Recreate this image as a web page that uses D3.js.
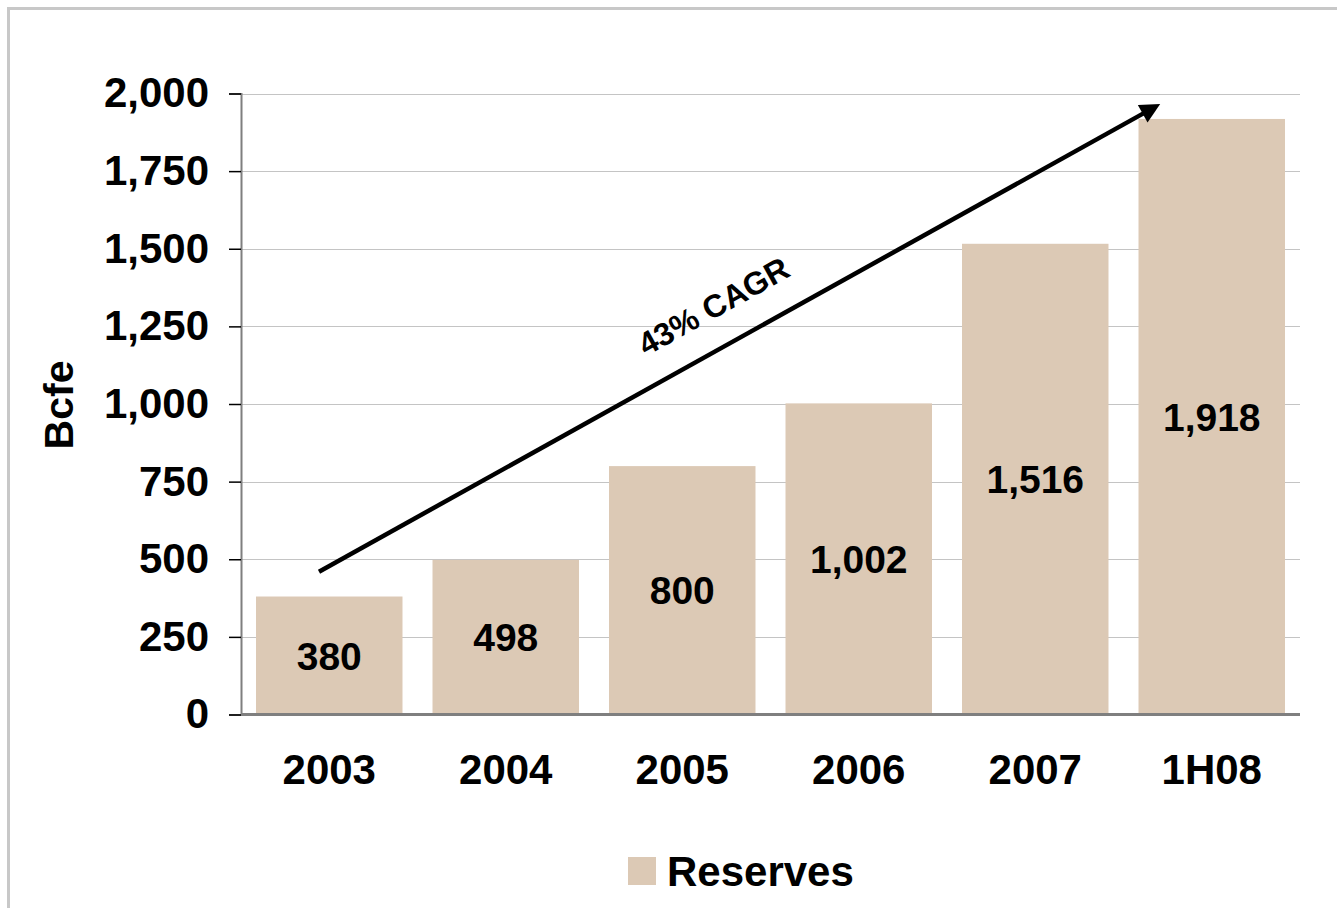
<!DOCTYPE html>
<html>
<head>
<meta charset="utf-8">
<script src="https://cdn.jsdelivr.net/npm/d3@7"></script>
<style>
  body { margin: 0; background: #fff; }
  text { font-family: Arial, "Liberation Sans", sans-serif; font-weight: bold; fill: #000; }
</style>
</head>
<body>
<div id="chart"></div>
<script>
var width = 1337,
    height = 908;

// data
const categories = ["2003", "2004", "2005", "2006", "2007", "1H08"];
const reserves = [380, 498, 800, 1002, 1516, 1918];
const labels = ["380", "498", "800", "1,002", "1,516", "1,918"];
const yTicks = [0, 250, 500, 750, 1000, 1250, 1500, 1750, 2000];
const seriesName = "Reserves";
const cagrText = "43% CAGR";
// arrow runs from 2003 value-ish to just above the top
const arrowFrom = { cat: "2003", value: 460, offset: -0.07 };
const arrowTo = { cat: "1H08", value: 1966, offset: -0.352 };

var svg = d3.select("#chart")
    .append("svg")
    .attr("width", width)
    .attr("height", height);

// outer frame
svg.append("rect")
    .attr("x", 8.5).attr("y", 8.5)
    .attr("width", width + 20).attr("height", height + 20)
    .attr("fill", "none")
    .attr("stroke", "#c8c8c8")
    .attr("stroke-width", 3);

var xScale = d3.scaleBand().domain(categories).range([241, 1300]).paddingInner(0.17).paddingOuter(0.085),
    yScale = d3.scaleLinear().domain([0, 2000]).range([714.5, 93.5]);

// gridlines
svg.append("g")
    .selectAll("line")
    .data(yTicks.filter(d => d > 0))
    .enter().append("line")
    .attr("x1", 241).attr("x2", 1300)
    .attr("y1", d => Math.round(yScale(d)) + 0.5)
    .attr("y2", d => Math.round(yScale(d)) + 0.5)
    .attr("stroke", "#c4c4c4")
    .attr("stroke-width", 1);

// bars
svg.selectAll(".bar")
    .data(reserves)
    .enter().append("rect")
    .attr("class", "bar")
    .attr("x", (d, i) => xScale(categories[i]))
    .attr("y", d => yScale(d))
    .attr("width", xScale.bandwidth())
    .attr("height", d => yScale(0) - yScale(d))
    .attr("fill", "#dcc9b5");

// bar labels
svg.selectAll(".blabel")
    .data(reserves)
    .enter().append("text")
    .attr("class", "blabel")
    .attr("x", (d, i) => xScale(categories[i]) + xScale.bandwidth() / 2)
    .attr("y", d => (yScale(d) + yScale(0)) / 2)
    .attr("dy", "0.36em")
    .attr("text-anchor", "middle")
    .style("font-size", "39px")
    .text((d, i) => labels[i]);

// Y-axis
var yAxis = d3.axisLeft(yScale)
    .tickValues(yTicks)
    .tickSize(12)
    .tickPadding(20)
    .tickFormat(d3.format(","));

var gy = svg.append("g")
    .attr("transform", "translate(241,0)")
    .call(yAxis);
gy.select(".domain").attr("stroke", "#7f7f7f").attr("stroke-width", 2);
gy.selectAll(".tick line").attr("stroke", "#000").attr("stroke-width", 1.5);
gy.selectAll("text")
    .style("font-size", "42px")
    .style("font-family", "Arial, 'Liberation Sans', sans-serif")
    .style("font-weight", "bold")
    .attr("fill", "#000");

// X-axis
var xAxis = d3.axisBottom(xScale).tickSize(0).tickPadding(40);
var gx = svg.append("g")
    .attr("transform", "translate(0," + yScale(0) + ")")
    .call(xAxis);
gx.select(".domain").attr("d", "M241,0H1300").attr("stroke", "#7f7f7f").attr("stroke-width", 3);
gx.selectAll("text")
    .style("font-size", "42px")
    .style("font-family", "Arial, 'Liberation Sans', sans-serif")
    .style("font-weight", "bold")
    .attr("fill", "#000");

// y title
svg.append("text")
    .attr("transform", "translate(73,405) rotate(-90)")
    .attr("text-anchor", "middle")
    .style("font-size", "41px")
    .text("Bcfe");

// CAGR arrow
svg.append("defs").append("marker")
    .attr("id", "head")
    .attr("viewBox", "0 0 10 10")
    .attr("refX", 10).attr("refY", 5)
    .attr("markerUnits", "userSpaceOnUse")
    .attr("markerWidth", 24).attr("markerHeight", 20)
    .attr("orient", "auto")
    .append("path")
    .attr("d", "M0,0L10,5L0,10z")
    .attr("fill", "#000");

var ax1 = xScale(arrowFrom.cat) + xScale.bandwidth() * (0.5 + arrowFrom.offset),
    ay1 = yScale(arrowFrom.value),
    ax2 = xScale(arrowTo.cat) + xScale.bandwidth() * (0.5 + arrowTo.offset),
    ay2 = yScale(arrowTo.value);

svg.append("line")
    .attr("x1", ax1).attr("y1", ay1)
    .attr("x2", ax2 - 10).attr("y2", ay2 + 10 * (ay1 - ay2) / (ax2 - ax1))
    .attr("stroke", "#000")
    .attr("stroke-width", 4.5);

svg.append("line")
    .attr("x1", ax2 - 20).attr("y1", ay2 + 20 * (ay1 - ay2) / (ax2 - ax1))
    .attr("x2", ax2).attr("y2", ay2)
    .attr("stroke", "none")
    .attr("marker-end", "url(#head)");

var angle = Math.atan2(ay2 - ay1, ax2 - ax1) * 180 / Math.PI;
svg.append("text")
    .attr("transform", "translate(719,316) rotate(" + angle + ")")
    .attr("text-anchor", "middle")
    .style("font-size", "32px")
    .text(cagrText);

// legend
var legend = svg.append("g").attr("transform", "translate(628,857)");
legend.append("rect")
    .attr("width", 28).attr("height", 28)
    .attr("fill", "#dcc9b5");
legend.append("text")
    .attr("x", 39).attr("y", 14)
    .attr("dy", "0.36em")
    .style("font-size", "42px")
    .text(seriesName);
</script>
</body>
</html>
